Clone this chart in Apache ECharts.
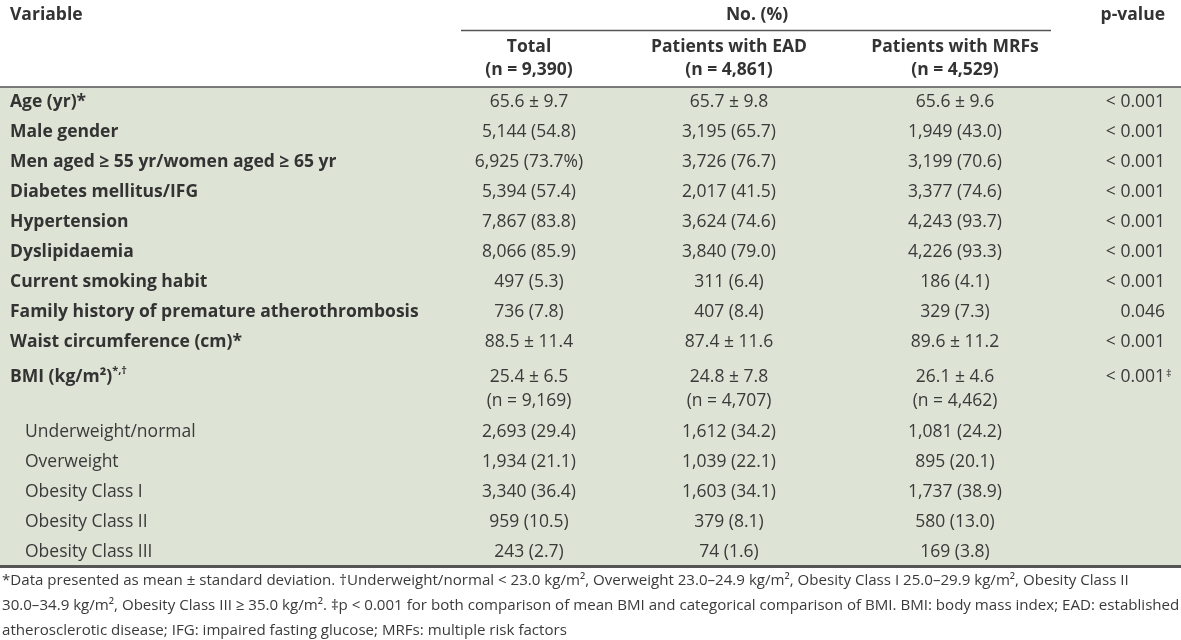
<!DOCTYPE html>
<html><head><meta charset="utf-8">
<script src="https://cdn.jsdelivr.net/npm/echarts@6/dist/echarts.min.js"></script>
<style>html,body{margin:0;padding:0;background:#fff}#c{width:1181px;height:640px}</style>
</head><body><div id="c"></div>
<script>
// ---------------- data ----------------
const variables = [
  'Age (yr)*',
  'Male gender',
  'Men aged ≥ 55 yr/women aged ≥ 65 yr',
  'Diabetes mellitus/IFG',
  'Hypertension',
  'Dyslipidaemia',
  'Current smoking habit',
  'Family history of premature atherothrombosis',
  'Waist circumference (cm)*',
  'BMI (kg/m²){sup|*,†}',
  'Underweight/normal',
  'Overweight',
  'Obesity Class I',
  'Obesity Class II',
  'Obesity Class III'
];
const isSubRow = [false,false,false,false,false,false,false,false,false,false,true,true,true,true,true];
const totalCol = ['65.6 ± 9.7','5,144 (54.8)','6,925 (73.7%)','5,394 (57.4)','7,867 (83.8)','8,066 (85.9)','497 (5.3)','736 (7.8)','88.5 ± 11.4','25.4 ± 6.5\n(n = 9,169)','2,693 (29.4)','1,934 (21.1)','3,340 (36.4)','959 (10.5)','243 (2.7)'];
const eadCol = ['65.7 ± 9.8','3,195 (65.7)','3,726 (76.7)','2,017 (41.5)','3,624 (74.6)','3,840 (79.0)','311 (6.4)','407 (8.4)','87.4 ± 11.6','24.8 ± 7.8\n(n = 4,707)','1,612 (34.2)','1,039 (22.1)','1,603 (34.1)','379 (8.1)','74 (1.6)'];
const mrfCol = ['65.6 ± 9.6','1,949 (43.0)','3,199 (70.6)','3,377 (74.6)','4,243 (93.7)','4,226 (93.3)','186 (4.1)','329 (7.3)','89.6 ± 11.2','26.1 ± 4.6\n(n = 4,462)','1,081 (24.2)','895 (20.1)','1,737 (38.9)','580 (13.0)','169 (3.8)'];
const pValues = ['< 0.001','< 0.001','< 0.001','< 0.001','< 0.001','< 0.001','< 0.001','0.046','< 0.001','< 0.001','','','','',''];
const pMarks = ['','','','','','','','','','‡','','','','',''];
const firstHeader = 'Variable';
const groupHeader = 'No. (%)';
const pHeader = 'p-value';
const columnHeaders = ['Total\n(n = 9,390)','Patients with EAD\n(n = 4,861)','Patients with MRFs\n(n = 4,529)'];
const footnotes = [
  '*Data presented as mean ± standard deviation. †Underweight/normal < 23.0 kg/m², Overweight 23.0–24.9 kg/m², Obesity Class I 25.0–29.9 kg/m², Obesity Class II',
  '30.0–34.9 kg/m², Obesity Class III ≥ 35.0 kg/m². ‡p < 0.001 for both comparison of mean BMI and categorical comparison of BMI. BMI: body mass index; EAD: established',
  'atherosclerotic disease; IFG: impaired fasting glucose; MRFs: multiple risk factors'
];

// ---------------- layout / style ----------------
const W = 1181;
const COL_X = [10, 529, 729, 955, 1165];
const SUB_INDENT = 15;
const FONT = '"Open Sans", "Noto Sans", sans-serif';
const FS = 17.5;
const LH = 24;
const TEXT = '#3a3a3a';
const HEAD = '#333333';
const GREEN = '#dde3d5';
const RULE = '#555555';

// slots: a row whose cells hold two lines takes two slots
const slots = [], rowSlot = [], rowSpan = [];
variables.forEach((v, i) => {
  const span = [totalCol[i], eadCol[i], mrfCol[i]].some(s => s.indexOf('\n') >= 0) ? 2 : 1;
  rowSlot.push(slots.length); rowSpan.push(span);
  for (let k = 0; k < span; k++) slots.push('r' + i + '_' + k);
});

const cells = [];
variables.forEach((v, i) => {
  cells.push({ value: [COL_X[0] + (isSubRow[i] ? SUB_INDENT : 0), rowSlot[i], rowSpan[i]], text: v, align: 'left', bold: !isSubRow[i] });
  [totalCol, eadCol, mrfCol].forEach((arr, c) => {
    cells.push({ value: [COL_X[c + 1], rowSlot[i], rowSpan[i]], text: arr[i], align: 'center', bold: false });
  });
  if (pValues[i]) cells.push({ value: [COL_X[4], rowSlot[i], rowSpan[i]], text: pValues[i], align: 'right', bold: false, mark: pMarks[i] });
});

const chart = echarts.init(document.getElementById('c'), null, { renderer: 'canvas' });

function renderItem(params, api) {
  const d = cells[params.dataIndex];
  const span = api.value(2);
  const x = api.coord([api.value(0), api.value(1)])[0];
  const y0 = api.coord([0, api.value(1)])[1];
  const y1 = api.coord([0, api.value(1) + span - 1])[1];
  const top = (y0 + y1) / 2 - span * LH / 2 + (span - 1) * 2 + 0.5;
  const weight = d.bold ? 'bold' : 'normal';
  const children = [{
    type: 'text', x: x, y: top,
    style: {
      text: d.text, align: d.align, verticalAlign: 'top',
      fontFamily: FONT, fontSize: FS, fontWeight: weight, lineHeight: LH,
      fill: d.bold ? HEAD : TEXT,
      rich: { sup: { fontFamily: FONT, fontSize: 11, fontWeight: weight, fill: d.bold ? HEAD : TEXT, verticalAlign: 'top', lineHeight: LH, padding: [0, 0, 6, 0] } }
    }
  }];
  if (d.mark) {
    children.push({ type: 'text', x: x + 1, y: top + 3,
      style: { text: d.mark, align: 'left', verticalAlign: 'top', fontFamily: FONT, fontSize: 11, fill: TEXT } });
  }
  return { type: 'group', children: children };
}

const graphics = [
  { type: 'text', x: COL_X[0], y: 15, style: { text: firstHeader, align: 'left', verticalAlign: 'middle', fontFamily: FONT, fontSize: FS, fontWeight: 'bold', fill: HEAD } },
  { type: 'text', x: 757, y: 15, style: { text: groupHeader, align: 'center', verticalAlign: 'middle', fontFamily: FONT, fontSize: FS, fontWeight: 'bold', fill: HEAD } },
  { type: 'text', x: COL_X[4], y: 15, style: { text: pHeader, align: 'right', verticalAlign: 'middle', fontFamily: FONT, fontSize: FS, fontWeight: 'bold', fill: HEAD } },
  { type: 'line', shape: { x1: 461, y1: 30.5, x2: 1051, y2: 30.5 }, style: { stroke: RULE, lineWidth: 1.5 } },
  { type: 'text', x: 2, y: 568, style: { text: footnotes.join('\n'), align: 'left', verticalAlign: 'top', fontFamily: FONT, fontSize: 15.1, lineHeight: 25, fill: TEXT } }
];
columnHeaders.forEach((h, c) => {
  graphics.push({ type: 'text', x: COL_X[c + 1], y: 35.5, style: { text: h, align: 'center', verticalAlign: 'top', fontFamily: FONT, fontSize: FS, fontWeight: 'bold', lineHeight: 23, fill: HEAD } });
});

chart.setOption({
  animation: false,
  grid: { left: 0, right: 0, top: 87, bottom: 74, show: true, backgroundColor: GREEN, borderWidth: 0 },
  xAxis: [
    { type: 'value', min: 0, max: W, position: 'bottom', axisLine: { show: true, lineStyle: { color: RULE, width: 3 } }, axisTick: { show: false }, axisLabel: { show: false }, splitLine: { show: false } },
    { type: 'value', min: 0, max: W, position: 'top', axisLine: { show: true, lineStyle: { color: RULE, width: 1.5 } }, axisTick: { show: false }, axisLabel: { show: false }, splitLine: { show: false } }
  ],
  yAxis: { type: 'category', data: slots, inverse: true, show: false },
  series: [{
    type: 'custom', xAxisIndex: 0, yAxisIndex: 0,
    renderItem: renderItem,
    data: cells.map(c => c.value),
    silent: true
  }],
  graphic: graphics
});
</script>
</body></html>
